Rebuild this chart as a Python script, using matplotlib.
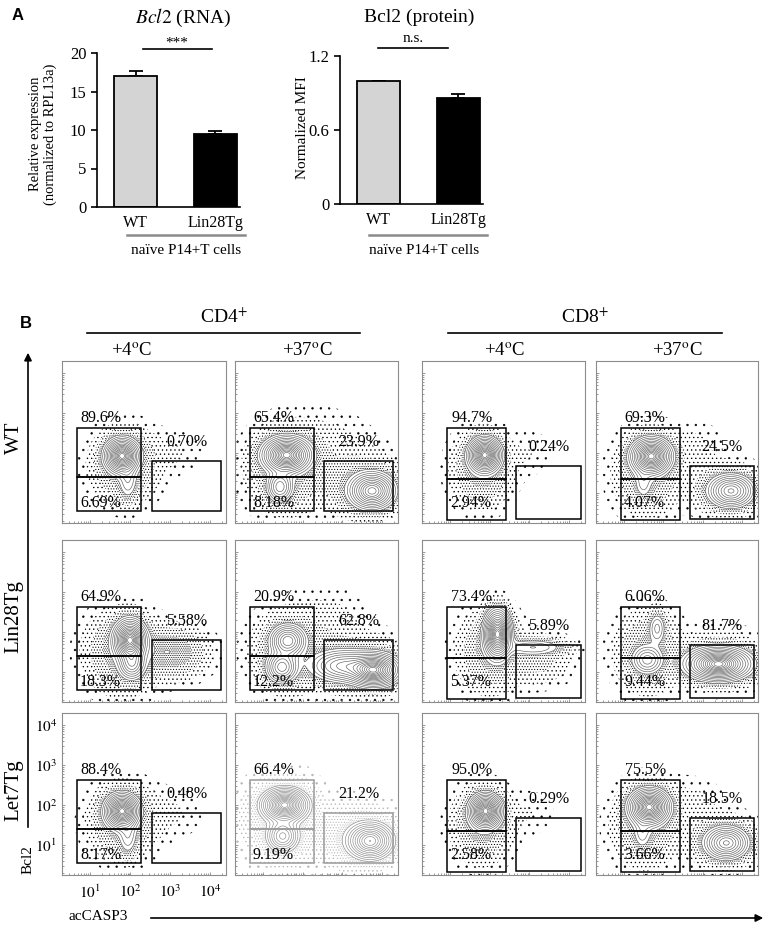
import matplotlib
matplotlib.use("Agg")
import matplotlib.pyplot as plt
import matplotlib.patches as mpatches
from matplotlib.lines import Line2D
import numpy as np

W, H = 767, 927
DPI = 100

# ── Panel A: bar chart values ───────────────────────────────
GENOTYPES = ["WT", "Lin28Tg"]
BAR_COLORS = ["#d4d4d4", "black"]
RNA_MEAN = [17.0, 9.45]
RNA_SEM = [0.6, 0.42]
PROT_MEAN = [1.0, 0.86]
PROT_SEM = [0.0, 0.03]

# ── Panel B: flow plots ─────────────────────────────────────
ROW_NAMES = ["WT", "Lin28Tg", "Let7Tg"]
SUBSETS = ["CD4$^{+}$", "CD8$^{+}$"]
TEMPS = ["+4$^{\\mathrm{o}}$C", "+37$^{\\mathrm{o}}$C"]

PCT_UPPER = [["89.6%", "65.4%", "94.7%", "69.3%"],
             ["64.9%", "20.9%", "73.4%", "6.06%"],
             ["88.4%", "66.4%", "95.0%", "75.5%"]]
PCT_RIGHT = [["0.70%", "23.9%", "0.24%", "24.5%"],
             ["5.58%", "62.8%", "5.89%", "81.7%"],
             ["0.48%", "21.2%", "0.29%", "18.5%"]]
PCT_LOWER = [["6.69%", "8.18%", "2.94%", "4.07%"],
             ["18.3%", "12.2%", "5.37%", "9.44%"],
             ["8.17%", "9.19%", "2.58%", "3.66%"]]

# gates in log10 units: (x0, y0, x1, y1) for upper-left, lower-left, right
GATES_CD4 = [(0.67, 1.40, 2.28, 2.62), (0.67, 0.55, 2.28, 1.40), (2.55, 0.55, 4.28, 1.80)]
GATES_CD8 = [(0.93, 1.35, 2.42, 2.62), (0.93, 0.33, 2.42, 1.35), (2.67, 0.35, 4.30, 1.67)]

# cell populations: (acCASP3 log10, Bcl2 log10, sd x, sd y, peak)
WT_CD4_4C = [(1.80, 1.93, 0.21, 0.21, 1.0), (1.95, 1.30, 0.13, 0.28, 0.10),
             (1.85, 1.70, 0.45, 0.50, 0.05), (3.00, 2.00, 0.50, 0.35, 0.006)]
WT_CD4_37C = [(1.60, 1.95, 0.30, 0.22, 1.0), (1.43, 1.15, 0.17, 0.20, 0.35),
              (3.75, 1.05, 0.28, 0.22, 0.75), (1.60, 1.60, 0.55, 0.60, 0.04),
              (3.50, 1.20, 0.55, 0.45, 0.04), (2.60, 2.20, 0.70, 0.50, 0.008)]
WT_CD8_4C = [(1.88, 1.95, 0.20, 0.21, 1.0), (1.80, 1.60, 0.40, 0.50, 0.05),
             (3.00, 2.00, 0.40, 0.35, 0.005)]
WT_CD8_37C = [(1.70, 1.92, 0.25, 0.22, 1.0), (1.50, 1.25, 0.12, 0.22, 0.08),
              (3.72, 1.05, 0.28, 0.20, 0.55), (1.60, 1.50, 0.45, 0.55, 0.045),
              (3.60, 1.10, 0.50, 0.35, 0.04), (2.70, 2.10, 0.50, 0.40, 0.008)]
LIN_CD4_4C = [(2.00, 1.80, 0.20, 0.25, 1.0), (2.05, 1.20, 0.17, 0.20, 0.35),
              (3.00, 1.50, 0.50, 0.35, 0.06), (1.80, 1.50, 0.50, 0.55, 0.05)]
LIN_CD4_37C = [(1.63, 1.78, 0.22, 0.20, 0.55), (1.48, 1.12, 0.20, 0.20, 0.45),
               (3.80, 1.05, 0.32, 0.20, 1.0), (3.00, 1.15, 0.40, 0.20, 0.4),
               (1.60, 1.50, 0.50, 0.55, 0.04), (3.30, 1.20, 0.75, 0.40, 0.04),
               (2.60, 2.20, 0.60, 0.50, 0.01)]
LIN_CD8_4C = [(2.20, 1.95, 0.17, 0.30, 1.0), (3.10, 1.62, 0.45, 0.12, 0.12),
              (2.00, 1.50, 0.45, 0.55, 0.04), (3.20, 1.30, 0.50, 0.35, 0.02)]
LIN_CD8_37C = [(1.85, 2.10, 0.12, 0.22, 0.13), (1.60, 1.30, 0.20, 0.18, 0.25),
               (3.40, 1.20, 0.40, 0.20, 1.0), (1.60, 1.50, 0.45, 0.55, 0.04),
               (3.40, 1.30, 0.60, 0.40, 0.03)]
LET_CD4_4C = [(1.80, 1.85, 0.21, 0.21, 1.0), (1.95, 1.22, 0.13, 0.28, 0.10),
              (1.80, 1.60, 0.45, 0.50, 0.05), (3.00, 1.80, 0.50, 0.40, 0.006)]
LET_CD4_37C = [(1.55, 2.00, 0.28, 0.20, 1.0), (1.50, 1.22, 0.20, 0.20, 0.4),
               (3.70, 1.10, 0.28, 0.22, 0.7), (1.50, 1.60, 0.55, 0.60, 0.04),
               (3.40, 1.20, 0.60, 0.45, 0.04)]
LET_CD8_4C = [(1.90, 1.85, 0.20, 0.21, 1.0), (1.80, 1.50, 0.40, 0.50, 0.05),
              (3.00, 1.80, 0.40, 0.35, 0.005)]
LET_CD8_37C = [(1.65, 1.95, 0.25, 0.22, 1.0), (1.47, 1.30, 0.12, 0.22, 0.08),
               (3.60, 1.05, 0.27, 0.20, 0.55), (1.55, 1.50, 0.45, 0.55, 0.045),
               (3.50, 1.10, 0.50, 0.35, 0.04), (2.70, 2.00, 0.50, 0.40, 0.008)]

POPULATIONS = [[WT_CD4_4C, WT_CD4_37C, WT_CD8_4C, WT_CD8_37C],
               [LIN_CD4_4C, LIN_CD4_37C, LIN_CD8_4C, LIN_CD8_37C],
               [LET_CD4_4C, LET_CD4_37C, LET_CD8_4C, LET_CD8_37C]]

# ── Layout (pixels) ─────────────────────────────────────────
COL_X = [(62, 226), (235, 398), (422, 585), (596, 758)]
ROW_Y = [(361, 523), (540, 702), (713, 875)]
XLIM = (0.3, 4.4)
YLIM = (0.25, 4.3)
CONTOUR_LEVELS = [0.06, 0.09, 0.13, 0.18, 0.24, 0.31, 0.39, 0.47, 0.55, 0.63,
                  0.71, 0.78, 0.85, 0.91, 0.96]
DOT_LEVELS = [0.0015, 0.005, 0.014, 0.032, 0.06]
DOT_HATCH = ["..", "....", "......", "........."]

plt.rcParams.update({
    "font.family": ["Liberation Serif", "DejaVu Serif"],
    "mathtext.fontset": "stix",
    "hatch.linewidth": 0.45,
})


def px_rect(x0, y0, x1, y1):
    return [x0 / W, 1 - y1 / H, (x1 - x0) / W, (y1 - y0) / H]


def fxy(x, y):
    return x / W, 1 - y / H


def hline(fig, x0, x1, y, color="black", lw=1.2):
    fig.add_artist(Line2D([x0 / W, x1 / W], [1 - y / H, 1 - y / H],
                          color=color, lw=lw, transform=fig.transFigure))


def bar_panel(fig, rect, means, sems, ylim, yticks, yticklabels):
    ax = fig.add_axes(rect)
    xpos = np.arange(len(GENOTYPES))
    ax.bar(xpos, means, width=0.54, color=BAR_COLORS, edgecolor="black",
           linewidth=1.3, zorder=2)
    ax.errorbar(xpos, means, yerr=[np.zeros(len(sems)), sems], fmt="none",
                ecolor="black", elinewidth=1.3, capsize=5, capthick=1.3, zorder=1)
    ax.set_xlim(-0.486, 1.314)
    ax.set_ylim(*ylim)
    ax.set_xticks(xpos, GENOTYPES, fontsize=11.5)
    ax.set_yticks(yticks, yticklabels, fontsize=12)
    ax.tick_params(axis="x", length=0, pad=6)
    ax.tick_params(axis="y", length=4, width=1.2, direction="out")
    for side in ("top", "right"):
        ax.spines[side].set_visible(False)
    for side in ("left", "bottom"):
        ax.spines[side].set_linewidth(1.2)
    return ax


def density(pops, gx, gy):
    z = np.zeros_like(gx)
    for cx, cy, sx, sy, amp in pops:
        z += amp * np.exp(-0.5 * (((gx - cx) / sx) ** 2 + ((gy - cy) / sy) ** 2))
    return z / z.max()


fig = plt.figure(figsize=(W / DPI, H / DPI), dpi=DPI)

# ── Panel A ─────────────────────────────────────────────────
fig.text(*fxy(18, 15), "A", fontsize=12, fontweight="bold",
         family="Liberation Sans", ha="center", va="center")

bar_panel(fig, px_rect(97, 53, 240, 207), RNA_MEAN, RNA_SEM, (0, 20),
          [0, 5, 10, 15, 20], ["0", "5", "10", "15", "20"])
fig.text(*fxy(183, 18), "$\\mathit{Bcl2}$ (RNA)", fontsize=14, ha="center", va="center")
fig.text(*fxy(43, 134), "Relative expression\n(normalized to RPL13a)", fontsize=10.5,
         rotation=90, ha="center", va="center", multialignment="center",
         linespacing=1.1)
hline(fig, 143, 212, 49)
fig.text(*fxy(177, 43), "***", fontsize=11, ha="center", va="center")
hline(fig, 127, 245, 235, color="#8a8a8a", lw=1.8)
fig.text(*fxy(186, 250), "naïve P14+T cells", fontsize=11, ha="center", va="center")

bar_panel(fig, px_rect(340, 56, 483, 204), PROT_MEAN, PROT_SEM, (0, 1.2),
          [0, 0.6, 1.2], ["0", "0.6", "1.2"])
fig.text(*fxy(419, 17), "Bcl2 (protein)", fontsize=14, ha="center", va="center")
fig.text(*fxy(302, 128), "Normalized MFI", fontsize=11, rotation=90,
         ha="center", va="center")
hline(fig, 378, 448, 48)
fig.text(*fxy(413, 39), "n.s.", fontsize=11, ha="center", va="center")
hline(fig, 369, 487, 235, color="#8a8a8a", lw=1.8)
fig.text(*fxy(424, 250), "naïve P14+T cells", fontsize=11, ha="center", va="center")

# ── Panel B ─────────────────────────────────────────────────
fig.text(*fxy(26, 323), "B", fontsize=12, fontweight="bold",
         family="Liberation Sans", ha="center", va="center")

for (x0, x1), label, t_centers in zip([(87, 360), (448, 722)], SUBSETS,
                                      [(132, 307), (505, 677)]):
    fig.text(*fxy((x0 + x1) / 2, 317), label, fontsize=14, ha="center", va="center")
    hline(fig, x0, x1, 333)
    for tx, temp in zip(t_centers, TEMPS):
        fig.text(*fxy(tx, 351), temp, fontsize=13.5, ha="center", va="center")

for (y0, y1), name in zip(ROW_Y, ROW_NAMES):
    yc = (y0 + y1) / 2 - 4
    fig.text(*fxy(14, yc), name, fontsize=15, rotation=90, ha="center", va="center")

fig.add_artist(mpatches.FancyArrowPatch(fxy(28, 830), fxy(28, 350),
                                        transform=fig.transFigure, arrowstyle="-|>",
                                        mutation_scale=11, lw=1.2, color="black"))
fig.add_artist(mpatches.FancyArrowPatch(fxy(148, 918), fxy(766, 918),
                                        transform=fig.transFigure, arrowstyle="-|>",
                                        mutation_scale=11, lw=1.2, color="black"))
fig.text(*fxy(28, 860), "Bcl2", fontsize=11, rotation=90, ha="center", va="center")
fig.text(*fxy(98, 917), "acCASP3", fontsize=11, ha="center", va="center")

gx, gy = np.meshgrid(np.linspace(XLIM[0], XLIM[1], 260), np.linspace(YLIM[0], YLIM[1], 260))
minor = [np.log10(k) + d for d in range(0, 5) for k in range(2, 10)]

for r, (y0, y1) in enumerate(ROW_Y):
    for c, (x0, x1) in enumerate(COL_X):
        ax = fig.add_axes(px_rect(x0, y0, x1, y1))
        faded = (r, c) == (2, 1)
        dot_col = "#b5b5b5" if faded else "black"
        line_col = "#8a8a8a" if faded else "#5e5e5e"
        gate_col = "#9a9a9a" if faded else "black"

        z = density(POPULATIONS[r][c], gx, gy)
        with plt.rc_context({"hatch.color": dot_col, "hatch.linewidth": 0.45}):
            ax.contourf(gx, gy, z, levels=DOT_LEVELS, colors="none", hatches=DOT_HATCH)
        ax.contour(gx, gy, z, levels=CONTOUR_LEVELS, colors=line_col, linewidths=0.45)

        gates = GATES_CD4 if c < 2 else GATES_CD8
        for gx0, gy0, gx1, gy1 in gates:
            ax.add_patch(mpatches.Rectangle((gx0, gy0), gx1 - gx0, gy1 - gy0,
                                            fill=False, edgecolor=gate_col, lw=1.1,
                                            zorder=3))
        ul, ll, rg = gates
        ax.text(ul[0] + 0.1, ul[3] + 0.06, PCT_UPPER[r][c], fontsize=11.5,
                ha="left", va="bottom", zorder=4)
        ax.text((rg[0] + rg[2]) / 2, rg[3] + 0.48, PCT_RIGHT[r][c], fontsize=11.5,
                ha="center", va="center", zorder=4)
        ax.text(ll[0] + 0.08, 0.76, PCT_LOWER[r][c], fontsize=11.5,
                ha="left", va="center", zorder=4)

        ax.set_xlim(*XLIM)
        ax.set_ylim(*YLIM)
        ax.set_xticks([1, 2, 3, 4])
        ax.set_yticks([1, 2, 3, 4])
        ax.set_xticks([m for m in minor if XLIM[0] < m < XLIM[1]], minor=True)
        ax.set_yticks([m for m in minor if YLIM[0] < m < YLIM[1]], minor=True)
        ax.tick_params(which="both", direction="in", color="#888888", width=0.6)
        ax.tick_params(which="major", length=2.5)
        ax.tick_params(which="minor", length=1.3)
        for sp in ax.spines.values():
            sp.set_color("#8c8c8c")
            sp.set_linewidth(0.8)
        if (r, c) == (2, 0):
            ax.set_xticklabels(["$10^{%d}$" % d for d in range(1, 5)], fontsize=11)
            ax.set_yticklabels(["$10^{%d}$" % d for d in range(1, 5)], fontsize=11)
            ax.tick_params(axis="x", pad=6)
        else:
            ax.set_xticklabels([])
            ax.set_yticklabels([])

fig.savefig("out.png", dpi=DPI, facecolor="white")
